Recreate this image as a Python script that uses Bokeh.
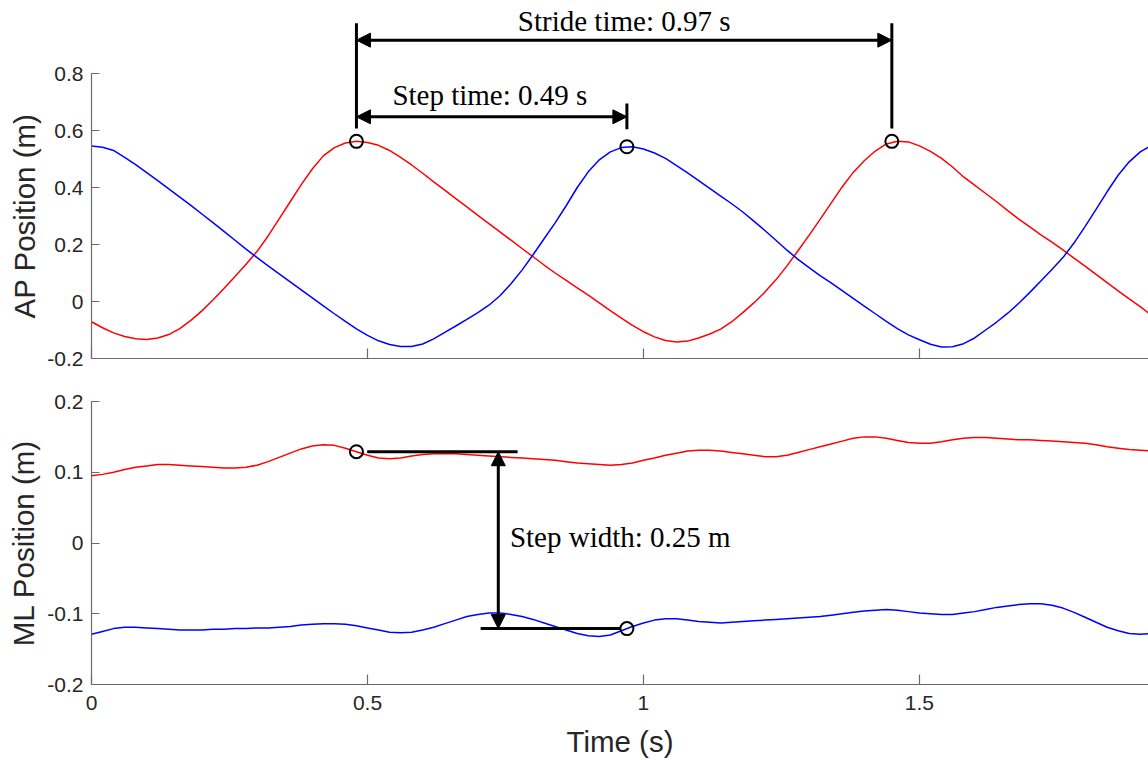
from bokeh.plotting import figure
from bokeh.layouts import column
from bokeh.models import Range1d, FixedTicker, Arrow, NormalHead, CustomJSTickFormatter, Title
from bokeh.core.properties import value
from bokeh.embed import file_html
from bokeh.resources import INLINE

# ---------------- data ----------------
time_s = [0.00, 0.02, 0.04, 0.06, 0.08, 0.10, 0.12, 0.14, 0.16, 0.18,
          0.20, 0.22, 0.24, 0.26, 0.28, 0.30, 0.32, 0.34, 0.36, 0.38,
          0.40, 0.42, 0.44, 0.46, 0.48, 0.50, 0.52, 0.54, 0.56, 0.58,
          0.60, 0.62, 0.64, 0.66, 0.68, 0.70, 0.72, 0.74, 0.76, 0.78,
          0.80, 0.82, 0.84, 0.86, 0.88, 0.90, 0.92, 0.94, 0.96, 0.98,
          1.00, 1.02, 1.04, 1.06, 1.08, 1.10, 1.12, 1.14, 1.16, 1.18,
          1.20, 1.22, 1.24, 1.26, 1.28, 1.30, 1.32, 1.34, 1.36, 1.38,
          1.40, 1.42, 1.44, 1.46, 1.48, 1.50, 1.52, 1.54, 1.56, 1.58,
          1.60, 1.62, 1.64, 1.66, 1.68, 1.70, 1.72, 1.74, 1.76, 1.78,
          1.80, 1.82, 1.84, 1.86, 1.88, 1.90, 1.92]

# anterior-posterior position (m)
ap_red = [-0.071, -0.092, -0.110, -0.123, -0.131, -0.133, -0.128, -0.116, -0.095, -0.066,
          -0.033, 0.005, 0.046, 0.088, 0.131, 0.176, 0.230, 0.290, 0.350, 0.410,
          0.465, 0.511, 0.540, 0.556, 0.562, 0.558, 0.548, 0.530, 0.506, 0.479,
          0.450, 0.420, 0.391, 0.361, 0.332, 0.302, 0.273, 0.244, 0.215, 0.186,
          0.157, 0.128, 0.100, 0.074, 0.048, 0.022, -0.005, -0.032, -0.058, -0.084,
          -0.106, -0.124, -0.137, -0.142, -0.139, -0.128, -0.114, -0.097, -0.071, -0.039,
          -0.005, 0.033, 0.076, 0.125, 0.178, 0.232, 0.288, 0.345, 0.402, 0.453,
          0.494, 0.528, 0.553, 0.562, 0.560, 0.546, 0.527, 0.502, 0.472, 0.437,
          0.408, 0.379, 0.350, 0.319, 0.289, 0.262, 0.234, 0.208, 0.181, 0.152,
          0.124, 0.095, 0.066, 0.037, 0.009, -0.018, -0.048]
ap_blue = [0.546, 0.541, 0.530, 0.506, 0.480, 0.452, 0.424, 0.395, 0.366, 0.337,
           0.307, 0.277, 0.246, 0.215, 0.184, 0.154, 0.125, 0.097, 0.069, 0.041,
           0.013, -0.015, -0.043, -0.070, -0.096, -0.119, -0.138, -0.151, -0.158, -0.158,
           -0.149, -0.131, -0.108, -0.086, -0.063, -0.039, -0.013, 0.020, 0.062, 0.110,
           0.164, 0.220, 0.276, 0.336, 0.400, 0.455, 0.497, 0.525, 0.540, 0.543,
           0.535, 0.521, 0.502, 0.477, 0.451, 0.424, 0.397, 0.370, 0.343, 0.314,
           0.282, 0.249, 0.215, 0.180, 0.148, 0.119, 0.091, 0.065, 0.038, 0.011,
           -0.016, -0.043, -0.070, -0.095, -0.117, -0.134, -0.150, -0.160, -0.159, -0.148,
           -0.128, -0.100, -0.072, -0.041, -0.006, 0.032, 0.072, 0.112, 0.154, 0.205,
           0.263, 0.323, 0.385, 0.443, 0.490, 0.525, 0.548]

# medio-lateral position (m)
ml_red = [0.095, 0.097, 0.100, 0.104, 0.107, 0.109, 0.111, 0.111, 0.110, 0.109,
          0.108, 0.107, 0.106, 0.106, 0.107, 0.110, 0.115, 0.121, 0.127, 0.133,
          0.137, 0.139, 0.138, 0.134, 0.129, 0.124, 0.120, 0.119, 0.120, 0.123,
          0.125, 0.126, 0.126, 0.126, 0.125, 0.124, 0.123, 0.122, 0.121, 0.120,
          0.119, 0.118, 0.117, 0.115, 0.113, 0.112, 0.111, 0.110, 0.111, 0.113,
          0.117, 0.120, 0.124, 0.127, 0.130, 0.131, 0.131, 0.130, 0.128, 0.126,
          0.124, 0.122, 0.122, 0.124, 0.128, 0.132, 0.136, 0.140, 0.144, 0.148,
          0.150, 0.150, 0.148, 0.145, 0.142, 0.141, 0.141, 0.143, 0.146, 0.148,
          0.149, 0.149, 0.148, 0.147, 0.146, 0.146, 0.145, 0.144, 0.143, 0.142,
          0.141, 0.139, 0.136, 0.134, 0.132, 0.131, 0.130]
ml_blue = [-0.129, -0.125, -0.121, -0.119, -0.119, -0.120, -0.121, -0.122, -0.123, -0.123,
           -0.123, -0.122, -0.122, -0.121, -0.121, -0.120, -0.120, -0.119, -0.118, -0.116,
           -0.115, -0.114, -0.114, -0.115, -0.117, -0.120, -0.123, -0.126, -0.127, -0.126,
           -0.123, -0.119, -0.114, -0.109, -0.104, -0.101, -0.099, -0.099, -0.101, -0.104,
           -0.108, -0.113, -0.118, -0.123, -0.128, -0.131, -0.132, -0.130, -0.124, -0.118,
           -0.113, -0.109, -0.107, -0.107, -0.109, -0.111, -0.112, -0.113, -0.112, -0.111,
           -0.110, -0.109, -0.108, -0.107, -0.106, -0.105, -0.104, -0.102, -0.100, -0.098,
           -0.096, -0.095, -0.094, -0.095, -0.097, -0.099, -0.100, -0.101, -0.101, -0.099,
           -0.097, -0.094, -0.091, -0.089, -0.087, -0.086, -0.086, -0.088, -0.092, -0.098,
           -0.105, -0.112, -0.119, -0.124, -0.128, -0.129, -0.128]

# heel-strike events marked with circles
event_t = [0.48, 0.97, 1.45]
event_ap = [0.562, 0.543, 0.562]
ml_event_t = [0.48, 0.97]
ml_event = [0.129, -0.121]

stride_label = "Stride time: 0.97 s"
step_label = "Step time: 0.49 s"
width_label = "Step width: 0.25 m"

x_ticks = [0, 0.5, 1, 1.5]
ap_ticks = [-0.2, 0, 0.2, 0.4, 0.6, 0.8]
ml_ticks = [-0.2, -0.1, 0, 0.1, 0.2]

# ---------------- styling ----------------
SANS = "Liberation Sans"
SERIF = "Liberation Serif"
AXIS_COL = "#6b6b6b"
TXT_COL = "#262626"
RED = "#ff0000"
BLUE = "#0000ff"
X_END = 1.915
LABEL_SIZE = "29.5px"

fmt = CustomJSTickFormatter(code="return tick.toString();")


def style(p, yticks):
    p.xgrid.visible = False
    p.ygrid.visible = False
    p.outline_line_color = None
    p.background_fill_color = "white"
    p.border_fill_color = "white"
    for ax in (p.xaxis[0], p.yaxis[0]):
        ax.axis_line_color = AXIS_COL
        ax.axis_line_width = 1.2
        ax.major_tick_line_color = AXIS_COL
        ax.major_tick_line_width = 1.2
        ax.minor_tick_line_color = None
        ax.major_tick_out = 0
        ax.major_label_text_font = SANS
        ax.major_label_text_font_size = "21px"
        ax.major_label_text_color = TXT_COL
        ax.axis_label_text_font = SANS
        ax.axis_label_text_font_size = LABEL_SIZE
        ax.axis_label_text_font_style = "normal"
        ax.axis_label_text_color = TXT_COL
    p.xaxis[0].ticker = FixedTicker(ticks=x_ticks)
    p.xaxis[0].major_tick_in = 10
    p.yaxis[0].ticker = FixedTicker(ticks=yticks)
    p.yaxis[0].major_tick_in = 8
    p.yaxis[0].formatter = fmt
    p.yaxis[0].major_label_standoff = 8


# ---------------- top panel: AP ----------------
top = figure(width=1148, height=379, output_backend="svg", toolbar_location=None,
             x_range=Range1d(0, X_END), y_range=Range1d(-0.2, 1.0386),
             min_border_left=91, min_border_right=0, min_border_top=5,
             min_border_bottom=21)
style(top, ap_ticks)
top.yaxis[0].bounds = (-0.2, 0.8)
top.xaxis[0].formatter = CustomJSTickFormatter(code="return '';")
top.xaxis[0].major_label_text_font_size = "0px"
top.xaxis[0].major_label_standoff = 0
# y-axis title placed along the visible axis span (-0.2 .. 0.8)
top.add_layout(Title(text="AP Position (m)", align="left", offset=40, standoff=7,
                     text_font=SANS, text_font_size=LABEL_SIZE, text_font_style="normal",
                     text_color=TXT_COL), "left")

top.line(time_s, ap_red, line_color=RED, line_width=1.5)
top.line(time_s, ap_blue, line_color=BLUE, line_width=1.5)

# annotation geometry (vertical levels of the dimension lines)
stride_y = 0.917
step_y = 0.648
tick_top = 0.976
tick_bot = 0.607
step_tick_top = 0.695
step_tick_bot = 0.604

top.segment(x0=[event_t[0], event_t[2], event_t[1]],
            y0=[tick_bot, tick_bot, step_tick_bot],
            x1=[event_t[0], event_t[2], event_t[1]],
            y1=[tick_top, tick_top, step_tick_top],
            line_color="black", line_width=3)

for (xa, xb, yy) in [(event_t[0], event_t[2], stride_y), (event_t[0], event_t[1], step_y)]:
    top.add_layout(Arrow(x_start=xa, y_start=yy, x_end=xb, y_end=yy,
                         line_color="black", line_width=3,
                         start=NormalHead(size=14, fill_color="black", line_color="black", line_width=1),
                         end=NormalHead(size=14, fill_color="black", line_color="black", line_width=1)))

top.text(x=[(event_t[0] + event_t[2]) / 2], y=[0.985], text=[stride_label],
         text_font=value(SERIF), text_font_size="29px", text_color="black",
         text_align="center", text_baseline="alphabetic")
top.text(x=[0.7217], y=[0.724], text=[step_label],
         text_font=value(SERIF), text_font_size="29px", text_color="black",
         text_align="center", text_baseline="alphabetic")

top.scatter(event_t, event_ap, marker="circle", size=13, fill_color=None,
            line_color="black", line_width=2)

# ---------------- bottom panel: ML ----------------
bot = figure(width=1148, height=381, output_backend="svg", toolbar_location=None,
             x_range=Range1d(0, X_END), y_range=Range1d(-0.2, 0.2),
             min_border_left=91, min_border_right=0, min_border_top=22,
             min_border_bottom=75)
style(bot, ml_ticks)
bot.yaxis[0].axis_label = "ML Position (m)"
bot.yaxis[0].axis_label_standoff = 4
bot.xaxis[0].formatter = fmt
bot.xaxis[0].major_label_standoff = 11
bot.xaxis[0].axis_label = "Time (s)"
bot.xaxis[0].axis_label_standoff = 12
bot.xaxis[0].axis_label_text_line_height = 0.85

bot.line(time_s, ml_red, line_color=RED, line_width=1.5)
bot.line(time_s, ml_blue, line_color=BLUE, line_width=1.5)

# step-width dimension lines
bot.segment(x0=[0.4995, 0.705], y0=ml_event, x1=[0.772, 0.958], y1=ml_event,
            line_color="black", line_width=3)
bot.add_layout(Arrow(x_start=0.737, y_start=ml_event[1], x_end=0.737, y_end=ml_event[0],
                     line_color="black", line_width=3,
                     start=NormalHead(size=14, fill_color="black", line_color="black", line_width=1),
                     end=NormalHead(size=14, fill_color="black", line_color="black", line_width=1)))
bot.text(x=[0.758], y=[0.009], text=[width_label],
         text_font=value(SERIF), text_font_size="29px", text_color="black",
         text_align="left", text_baseline="alphabetic")
bot.scatter(ml_event_t, ml_event, marker="circle", size=13, fill_color=None,
            line_color="black", line_width=2)

layout = column(top, bot, spacing=0)
open("out.html", "w").write(file_html(layout, INLINE))
